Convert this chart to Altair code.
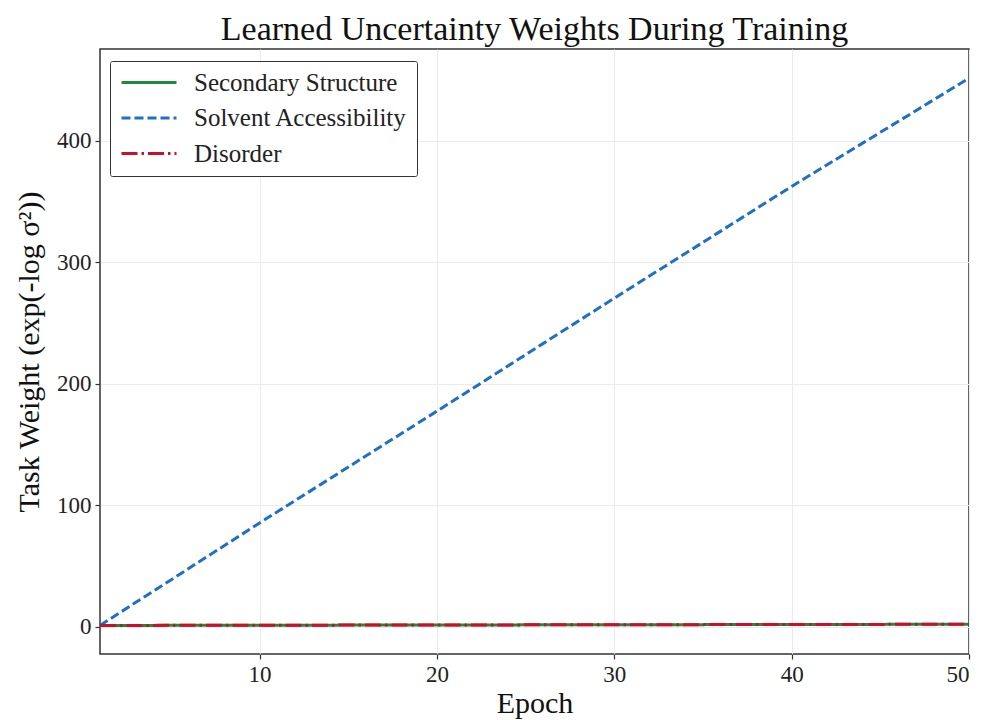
import altair as alt
import pandas as pd

epochs = list(range(1, 51))

secondary_structure = [
    1.00, 1.02, 1.04, 1.06, 1.08, 1.10, 1.12, 1.14, 1.16, 1.18,
    1.20, 1.22, 1.24, 1.26, 1.28, 1.30, 1.32, 1.34, 1.36, 1.38,
    1.40, 1.42, 1.44, 1.46, 1.48, 1.50, 1.52, 1.54, 1.56, 1.58,
    1.60, 1.62, 1.64, 1.66, 1.68, 1.70, 1.72, 1.74, 1.76, 1.78,
    1.80, 1.82, 1.84, 1.86, 1.88, 1.90, 1.92, 1.94, 1.96, 1.98,
]

solvent_accessibility = [
    1.0, 10.4, 19.8, 29.1, 38.5, 47.9, 57.3, 66.6, 76.0, 85.4,
    94.6, 103.8, 113.0, 122.2, 131.4, 140.6, 149.8, 159.0, 168.2, 177.4,
    186.7, 196.0, 205.3, 214.6, 223.9, 233.2, 242.5, 251.8, 261.1, 270.4,
    279.6, 288.8, 298.0, 307.2, 316.4, 325.6, 334.8, 344.0, 353.2, 362.4,
    371.3, 380.2, 389.1, 398.0, 406.9, 415.8, 424.7, 433.6, 442.5, 451.5,
]

disorder = [
    1.00, 1.02, 1.04, 1.06, 1.08, 1.10, 1.12, 1.14, 1.16, 1.18,
    1.20, 1.22, 1.24, 1.26, 1.28, 1.30, 1.32, 1.34, 1.36, 1.38,
    1.40, 1.42, 1.44, 1.46, 1.48, 1.50, 1.52, 1.54, 1.56, 1.58,
    1.60, 1.62, 1.64, 1.66, 1.68, 1.70, 1.72, 1.74, 1.76, 1.78,
    1.80, 1.82, 1.84, 1.86, 1.88, 1.90, 1.92, 1.94, 1.96, 1.98,
]

task_names = ["Secondary Structure", "Solvent Accessibility", "Disorder"]
task_colors = ["#1e8a3c", "#1f6fc4", "#c8102e"]
task_dashes = [[1, 0], [9, 4], [16, 4, 2.5, 4]]

x_ticks = [10, 20, 30, 40, 50]
y_ticks = [0, 100, 200, 300, 400]

rows = []
for name, vals in zip(task_names, [secondary_structure, solvent_accessibility, disorder]):
    for e, v in zip(epochs, vals):
        rows.append({"Epoch": e, "Weight": v, "Task": name})
df = pd.DataFrame(rows)

FONT = "Liberation Serif"

legend_common = dict(
    title=None,
    orient="none",
    legendX=10,
    legendY=12,
    symbolType="M-2,0H9",
    symbolSize=100,
    symbolStrokeWidth=3,
    labelFont=FONT,
    labelFontSize=25,
    labelColor="#222",
    labelOffset=50,
    labelLimit=400,
    rowPadding=9.5,
    padding=9,
    strokeColor="#333",
    fillColor="white",
    cornerRadius=2,
)

color = alt.Color(
    "Task:N",
    scale=alt.Scale(domain=task_names, range=task_colors),
    legend=alt.Legend(**legend_common),
)
dash = alt.StrokeDash(
    "Task:N",
    scale=alt.Scale(domain=task_names, range=task_dashes),
    legend=alt.Legend(**legend_common),
)

x = alt.X(
    "Epoch:Q",
    scale=alt.Scale(domain=[1, 50], nice=False, zero=False),
    axis=alt.Axis(values=x_ticks, title="Epoch", format="d"),
)
y = alt.Y(
    "Weight:Q",
    scale=alt.Scale(domain=[-22.5, 475.5], nice=False, zero=False),
    axis=alt.Axis(values=y_ticks, title="Task Weight (exp(-log σ²))", format="d"),
)

layers = []
for name in task_names:
    layers.append(
        alt.Chart(df)
        .transform_filter(alt.datum.Task == name)
        .mark_line(strokeWidth=3, clip=True)
        .encode(x=x, y=y, color=color, strokeDash=dash)
    )

chart = (
    alt.layer(*layers)
    .properties(
        width=869,
        height=605,
        title=alt.Title(
            "Learned Uncertainty Weights During Training",
            font=FONT,
            fontSize=34,
            fontWeight="normal",
            color="#111",
            offset=2,
        ),
        padding={"left": 100, "top": 49, "right": 13, "bottom": 66},
        autosize=alt.AutoSizeParams(type="none"),
        background="white",
    )
    .configure_view(stroke="#333", strokeWidth=1.5)
    .configure_axis(
        labelFont=FONT,
        labelFontSize=23,
        labelColor="#222",
        titleFont=FONT,
        titleFontSize=30,
        titleFontWeight="normal",
        titleColor="#111",
        tickColor="#333",
        tickSize=5,
        tickWidth=1.2,
        domain=False,
        gridColor="#ebebeb",
        gridWidth=1,
        labelPadding=4,
    )
    .configure_axisX(titlePadding=2)
    .configure_axisY(titlePadding=12)
)

chart.save("out.html", embed_options={"renderer": "svg", "actions": False})
